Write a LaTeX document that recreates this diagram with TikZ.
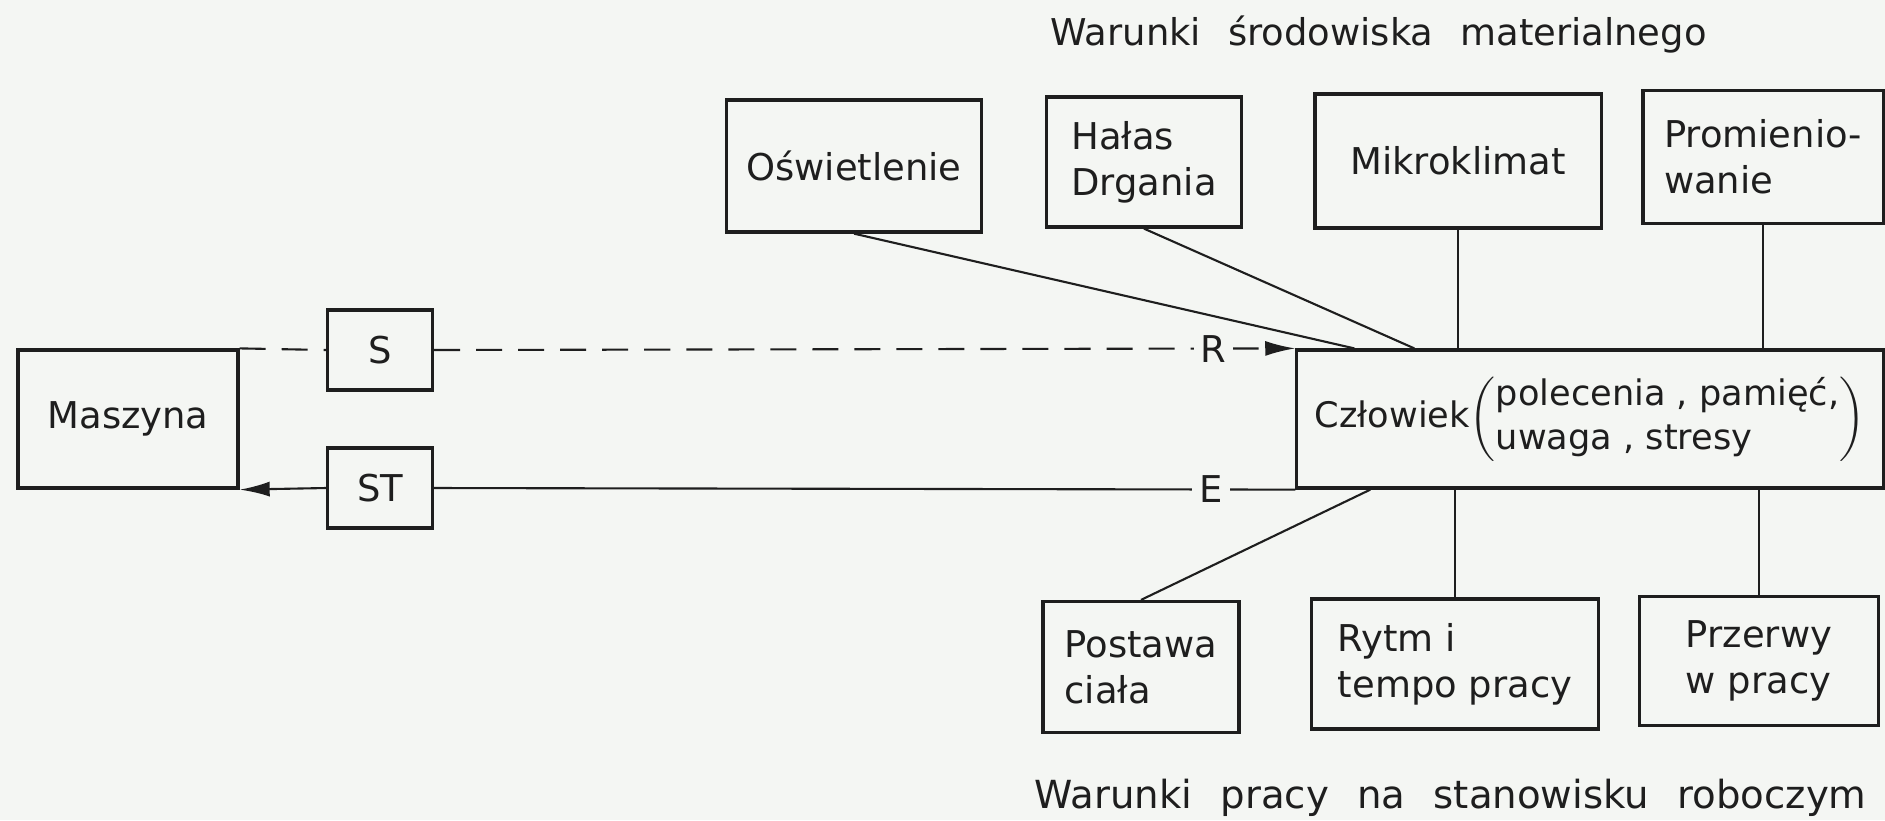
\documentclass[tikz,border=0pt]{standalone}
\usepackage{fontspec}
\setmainfont{DejaVu Sans}
\newfontfamily\szeroki[WordSpace=2.3]{DejaVu Sans}
\usetikzlibrary{arrows.meta}

\definecolor{papier}{RGB}{244,246,243}
\definecolor{tusz}{RGB}{30,30,30}

\tikzset{
  blok/.style={draw=tusz,line width=0.9pt,align=left,inner sep=0pt,text=tusz,
    font=\fontsize{10.5}{13}\selectfont},
  linia/.style={draw=tusz,line width=0.6pt},
  przerywana/.style={linia,dash pattern=on 2.6mm off 1.6mm},
  grot/.style={-{Latex[length=3mm,width=1.5mm]}},
  etykieta/.style={fill=papier,inner sep=2pt,text=tusz,font=\fontsize{10.5}{13}\selectfont},
  napis/.style={text=tusz,inner sep=0pt,font=\szeroki\fontsize{10.5}{13}\selectfont}
}

\begin{document}
\begin{tikzpicture}[x=0.01cm,y=-0.01cm]

    \fill[papier] (0,0) rectangle (1885,820);
    \useasboundingbox (0,0) rectangle (1885,820);

    % warunki srodowiska
    \node[napis,anchor=base west] (srodowisko) at (1050,45) {Warunki środowiska materialnego};
    \node[blok,minimum width=2.55cm,minimum height=1.32cm] (osw) at (854,166) {Oświetlenie};
    \node[blok,minimum width=1.95cm,minimum height=1.30cm] (hal) at (1144,162) {Hałas\\Drgania};
    \node[blok,minimum width=2.86cm,minimum height=1.34cm] (mik) at (1458,161) {Mikroklimat};
    \node[blok,minimum width=2.40cm,minimum height=1.33cm] (pro) at (1763,157) {Promienio-\\wanie};

    % uklad czlowiek - maszyna
    \node[blok,minimum width=2.20cm,minimum height=1.38cm] (masz) at (128,419) {Maszyna};
    \node[blok,minimum width=1.05cm,minimum height=0.80cm] (s) at (380,350) {S};
    \node[blok,minimum width=1.05cm,minimum height=0.80cm] (st) at (380,488) {ST};
    \node[blok,minimum width=5.86cm,minimum height=1.38cm,font=\fontsize{10}{12.5}\selectfont] (czl) at (1590,419)
      {Człowiek$\left(\begin{tabular}{@{}l@{}}polecenia , pamięć,\\uwaga , stresy\end{tabular}\right)$};

    % warunki pracy
    \node[blok,minimum width=1.96cm,minimum height=1.31cm] (pos) at (1141,667) {Postawa\\ciała};
    \node[blok,minimum width=2.87cm,minimum height=1.30cm] (ryt) at (1455,664) {Rytm i\\tempo pracy};
    \node[blok,minimum width=2.39cm,minimum height=1.29cm] (prz) at (1759,661) {Przerwy\\w pracy};
    \node[napis,anchor=base west,font=\szeroki\fontsize{11}{13}\selectfont] (stanowisko) at (1034,808)
      {Warunki pracy na stanowisku roboczym};

    % sprzezenia
    \draw[przerywana] (masz.north east) -- (s.west);
    \draw[przerywana,grot] (s.east) -- node[etykieta,pos=0.905] {R} (czl.north west);
    \draw[linia] (czl.south west) -- node[etykieta,pos=0.098] {E} (st.east);
    \draw[linia,grot] (st.west) -- (masz.south east);

    % wplywy
    \draw[linia] (osw.south) -- ([xshift=0.59cm]czl.north west);
    \draw[linia] (hal.south) -- ([xshift=1.19cm]czl.north west);
    \foreach \b in {mik,pro}
    \draw[linia] (\b.south) -- (\b.south |- czl.north);
    \draw[linia] (pos.north) -- ([xshift=0.75cm]czl.south west);
    \foreach \b in {ryt,prz}
    \draw[linia] (\b.north) -- (\b.north |- czl.south);

\end{tikzpicture}
\end{document}
